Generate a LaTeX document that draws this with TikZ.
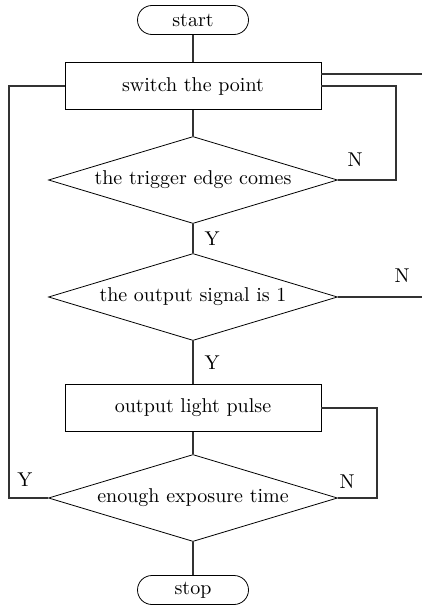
\documentclass[tikz,border=0pt]{standalone}
\usepackage{amsmath,amssymb,amsfonts}
\usetikzlibrary{shapes.geometric, positioning, calc}

\begin{document}
\begin{tikzpicture}[
    x=0.5pt, y=-0.5pt,
    term/.style={rectangle, draw, rounded corners=7.25pt, minimum width=55.5pt, minimum height=14.5pt, inner sep=0pt, line width=0.4pt},
    box/.style={rectangle, draw, minimum width=128pt, minimum height=23.5pt, inner sep=0pt, line width=0.4pt},
    decide/.style={diamond, draw, shape aspect=3.3, minimum width=144.5pt, minimum height=43.5pt, inner sep=0pt, line width=0.4pt},
    line/.style={line width=0.9pt, draw=black!80},
    lbl/.style={font=\normalsize}
]
\useasboundingbox (0,0) rectangle (422,605);
\node[term] (start) at (193,20) {start};
\node[box] (sw) at (193,86) {switch the point};
\node[decide] (trig) at (193,180) {the trigger edge comes};
\node[decide] (sig) at (193,297) {the output signal is 1};
\node[box] (pulse) at (193,408) {output light pulse};
\node[decide] (exp) at (193,498) {enough exposure time};
\node[term] (stop) at (193,590) {stop};
% free ends on the right
\coordinate (swout) at (422,74);
\coordinate (sigout) at (422,297);
% main flow
\draw[line] (start) -- (sw);
\draw[line] (sw) -- (trig);
\draw[line] (trig) -- node[lbl, right=2pt] {Y} (sig);
\draw[line] (sig) -- node[lbl, right=2pt] {Y} (pulse);
\draw[line] (pulse) -- (exp);
\draw[line] (exp) -- (stop);
% loops
\draw[line] (trig.east) -- (396,180) |- (sw.east);
\node[lbl] (n1) at (355,160) {N};
\draw[line] (sw.east |- swout) -- (swout);
\draw[line] (sig.east) -- (sigout);
\node[lbl] (n2) at (402,276) {N};
\draw[line] (pulse.east) -- (377,408) |- (exp.east);
\node[lbl] (n3) at (347,482) {N};
\draw[line] (exp.west) -- (9,498) |- (sw.west);
\node[lbl] (y3) at (25,480) {Y};
\end{tikzpicture}
\end{document}
